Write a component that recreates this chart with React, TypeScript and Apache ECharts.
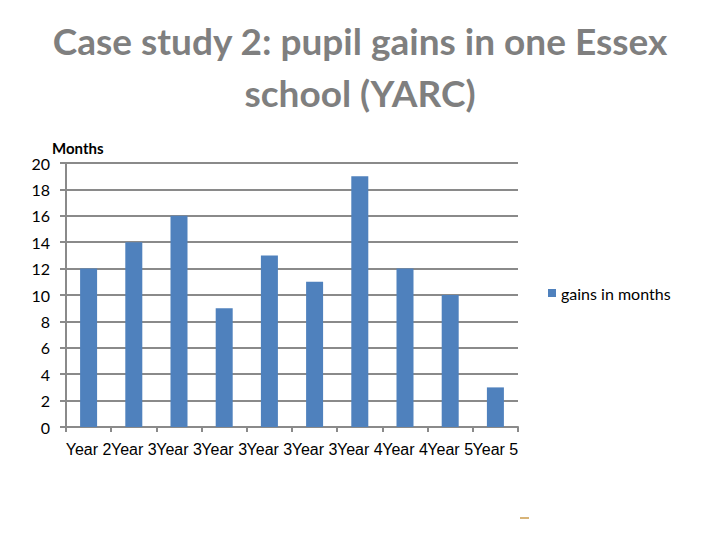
import { useEffect, useRef } from 'react';
import * as echarts from 'echarts';

const categories = ['Year 2', 'Year 3', 'Year 3', 'Year 3', 'Year 3', 'Year 3', 'Year 4', 'Year 4', 'Year 5', 'Year 5'];
const gains = [12, 14, 16, 9, 13, 11, 19, 12, 10, 3];
const seriesName = 'gains in months';

export default function App() {
  const chartRef = useRef<HTMLDivElement>(null);

  useEffect(() => {
    if (!chartRef.current) return;
    const chart = echarts.init(chartRef.current, null, { renderer: 'svg' });

    const grey = '#8a8a8a';

    chart.setOption({
      animation: false,
      backgroundColor: '#ffffff',
      title: {
        text: 'Case study 2: pupil gains in one Essex\nschool (YARC)',
        left: 'center',
        top: 9,
        textStyle: {
          color: '#7f7f7f',
          fontFamily: 'Lato',
          fontWeight: 'bold',
          fontSize: 37,
          lineHeight: 52,
        },
      },
      legend: {
        data: [seriesName],
        left: 543,
        top: 280,
        itemWidth: 8,
        itemHeight: 8,
        icon: 'rect',
        textStyle: { color: '#000', fontFamily: 'Lato', fontSize: 16 },
      },
      grid: { left: 66, right: 202, top: 163, bottom: 113, containLabel: false },
      xAxis: {
        type: 'category',
        data: categories,
        axisLine: { lineStyle: { color: grey, width: 2 } },
        axisTick: { show: true, length: 5, lineStyle: { color: grey, width: 2 } },
        axisLabel: {
          interval: 0,
          color: '#000',
          fontFamily: 'Liberation Sans',
          fontSize: 16,
          margin: 14,
        },
      },
      yAxis: {
        type: 'value',
        min: 0,
        max: 20,
        interval: 2,
        axisLine: { show: true, lineStyle: { color: grey, width: 2 } },
        axisTick: { show: true, length: 6, lineStyle: { color: grey, width: 2 } },
        axisLabel: { color: '#000', fontFamily: 'Lato', fontSize: 16, margin: 16 },
        splitLine: { lineStyle: { color: grey, width: 2 } },
      },
      graphic: [
        {
          type: 'text',
          left: 52,
          top: 140,
          style: { text: 'Months', fill: '#000', font: 'bold 15px Lato' },
        },
        {
          type: 'rect',
          shape: { x: 520, y: 517, width: 9, height: 2 },
          style: { fill: '#d8b478' },
        },
      ],
      series: [
        {
          name: seriesName,
          type: 'bar',
          data: gains,
          barWidth: 17,
          itemStyle: { color: '#4f81bd' },
        },
      ],
    });

    return () => {
      chart.dispose();
    };
  }, []);

  return (
    <div
      ref={chartRef}
      style={{ position: 'absolute', left: 0, top: 0, width: 720, height: 540 }}
    />
  );
}
